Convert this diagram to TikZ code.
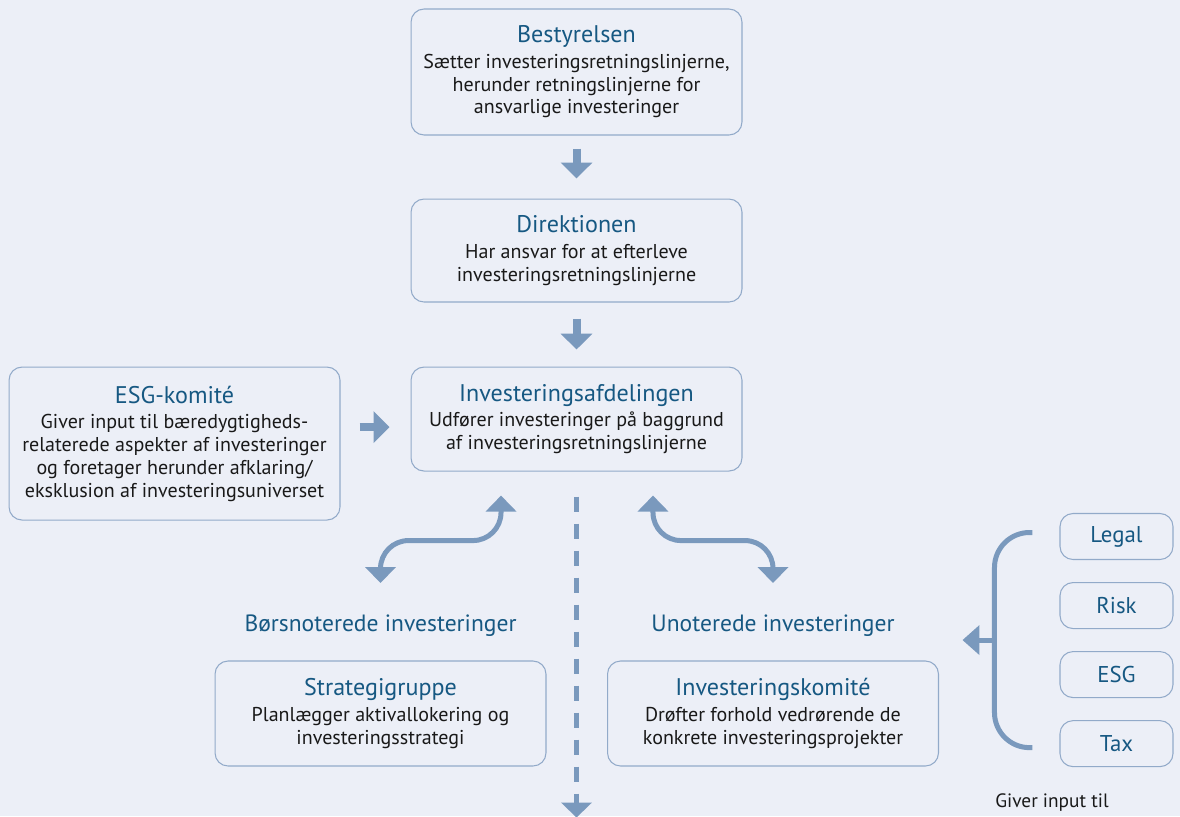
\documentclass[tikz,border=0pt]{standalone}
\usepackage{fontspec}
\setmainfont{PT Sans}
\usetikzlibrary{positioning, arrows.meta, calc}
\definecolor{bgcol}{RGB}{236,239,247}
\definecolor{boxline}{RGB}{146,170,201}
\definecolor{arrowcol}{RGB}{122,153,189}
\definecolor{titlecol}{RGB}{22,88,130}
\definecolor{textcol}{RGB}{25,25,25}
\tikzstyle{unit} = [rectangle, rounded corners=0.26cm,
minimum width=6.62cm,
minimum height=2.08cm,
text centered,
align=center,
draw=boxline, line width=0.6pt,
fill=bgcol,
text=textcol,
font=\fontsize{11.4}{13}\selectfont]
\tikzstyle{helper} = [rectangle, rounded corners=0.26cm,
minimum width=2.26cm,
minimum height=0.92cm,
draw=boxline, line width=0.6pt,
fill=bgcol,
text=titlecol,
font=\fontsize{13}{15}\selectfont]
\tikzstyle{branch} = [text=titlecol, font=\fontsize{13.4}{15}\selectfont]
\tikzstyle{bigarrow} = [line width=0.16cm, draw=arrowcol, -{Triangle[width=0.62cm,length=0.32cm]}]
\tikzstyle{swing} = [line width=0.1cm, draw=arrowcol, rounded corners=0.56cm,
{Triangle[width=0.6cm,length=0.32cm]}-{Triangle[width=0.6cm,length=0.32cm]}]
\newcommand{\unittitle}[1]{{\fontsize{13.7}{15}\selectfont\color{titlecol}#1}}

\begin{document}
\begin{tikzpicture}[x=0.02cm, y=-0.02cm]

		\fill [bgcol] (0,0) rectangle (1180,816);
		\useasboundingbox (0,0) rectangle (1180,816);

		\node (bestyr) [unit, minimum height=2.52cm] at (576.5,72) {\unittitle{Bestyrelsen}\\[1.5pt] Sætter investeringsretningslinjerne,\\ herunder retningslinjerne for\\ ansvarlige investeringer};

		\node (direk) [unit, minimum height=2.06cm, below=1.26cm of bestyr] {\unittitle{Direktionen}\\[1.5pt] Har ansvar for at efterleve\\ investeringsretningslinjerne};

		\node (invest) [unit, below=1.28cm of direk] {\unittitle{Investeringsafdelingen}\\[1.5pt] Udfører investeringer på baggrund\\ af investeringsretningslinjerne};

		\node (esg) [unit, minimum height=3.06cm, left=1.4cm of invest.north west, anchor=north east] {\unittitle{ESG-komité}\\[1.5pt] Giver input til bæredygtigheds-\\ relaterede aspekter af investeringer\\ og foretager herunder afklaring/\\ eksklusion af investeringsuniverset};

		\node (boers) [branch] at (380.5,626) {Børsnoterede investeringer};
		\node (unot) [branch] at (773,626) {Unoterede investeringer};

		\node (strat) [unit, minimum height=2.1cm] at (380.5,713.5) {\unittitle{Strategigruppe}\\[1.5pt] Planlægger aktivallokering og\\ investeringsstrategi};

		\node (komite) [unit, minimum height=2.1cm] at (773,713.5) {\unittitle{Investeringskomité}\\[1.5pt] Drøfter forhold vedrørende de\\ konkrete investeringsprojekter};

		\node (legal) [helper] at (1116.5,536.5) {Legal};
		\node (risk) [helper, below=0.44cm of legal] {Risk};
		\node (esgin) [helper, below=0.44cm of risk] {ESG};
		\node (tax) [helper, below=0.44cm of esgin] {Tax};

		\node (giver) [text=textcol, font=\fontsize{11}{13}\selectfont] at (1052,803) {Giver input til};

		\coordinate (brace) at ($(risk.south west)!0.5!(esgin.north west)+(-65,0)$);
		\coordinate (bracetip) at ($(brace)+(-32,0)$);
		\coordinate (bottom) at ($(invest.south)+(0,346)$);

		\draw [bigarrow, shorten <=0.26cm, shorten >=0.4cm] (bestyr) -- (direk);
		\draw [bigarrow, shorten <=0.32cm, shorten >=0.34cm] (direk) -- (invest);
		\draw [bigarrow, shorten <=0.38cm, shorten >=0.42cm] ($(esg.east |- invest.west)+(0,8)$) -- ($(invest.west)+(0,8)$);

		\draw [swing] ([xshift=-1.51cm, yshift=-0.48cm]invest.south) -- ++(0,45) -| ([yshift=0.86cm]boers.center);
		\draw [swing] ([xshift=1.53cm, yshift=-0.48cm]invest.south) -- ++(0,45) -| ([yshift=0.86cm]unot.center);

		\draw [line width=0.1cm, draw=arrowcol, dash pattern=on 0.3cm off 0.24cm, shorten <=0.5cm, -{Triangle[width=0.6cm,length=0.3cm]}] (invest.south) -- (bottom);

		\draw [line width=0.1cm, draw=arrowcol, rounded corners=0.7cm] ($(legal.west)+(-27,-4)$) -| (brace) |- ($(tax.west)+(-27,4)$);
		\draw [line width=0.1cm, draw=arrowcol, -{Triangle[width=0.58cm,length=0.34cm]}] (brace) -- (bracetip);

\end{tikzpicture}
\end{document}
